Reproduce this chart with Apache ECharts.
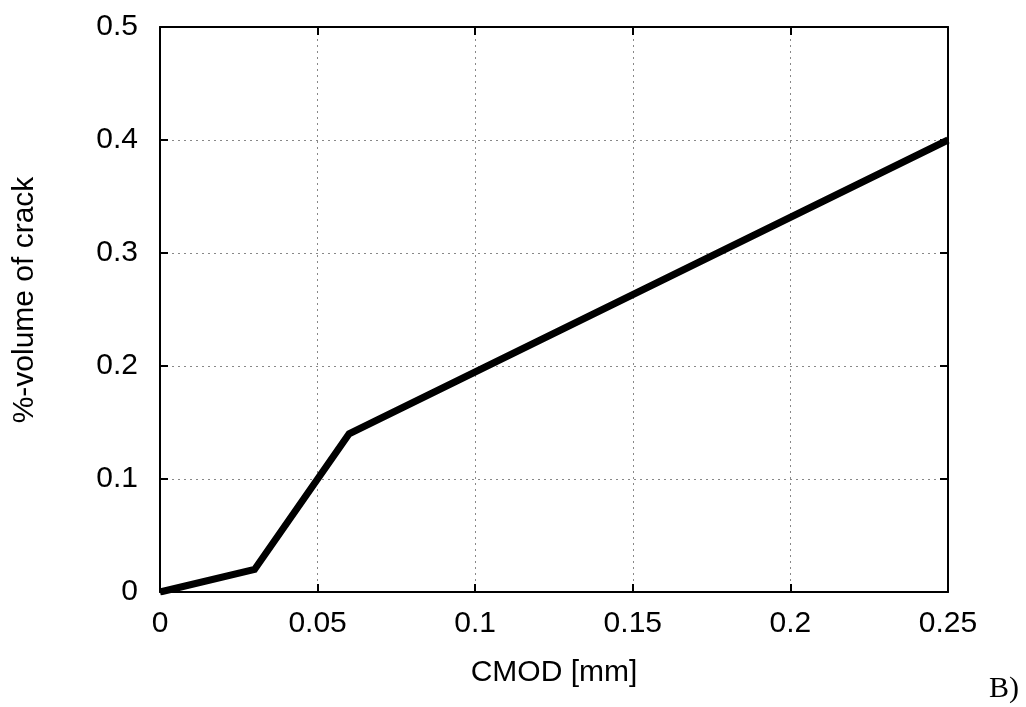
<!DOCTYPE html>
<html><head><meta charset="utf-8">
<script src="https://cdn.jsdelivr.net/npm/echarts@6/dist/echarts.min.js"></script>
<style>html,body{margin:0;padding:0;background:#fff}#c{width:1026px;height:707px}</style>
</head><body><div id="c"></div>
<script>
const cmod = [0, 0.03, 0.06, 0.25];
const volume = [0, 0.02, 0.14, 0.40];
const xTicks = [0, 0.05, 0.1, 0.15, 0.2, 0.25];
const yTicks = [0, 0.1, 0.2, 0.3, 0.4, 0.5];
const xTitle = 'CMOD [mm]';
const yTitle = '%-volume of crack';
const panelLabel = 'B)';

const font = 'Liberation Sans, Arial, Helvetica, sans-serif';
const chart = echarts.init(document.getElementById('c'));
const axisCommon = {
  axisLine: {show: true, onZero: false, lineStyle: {color: '#000', width: 2}},
  axisTick: {show: true, inside: true, length: 8, lineStyle: {color: '#000', width: 2}},
  splitLine: {show: false}
};
chart.setOption({
  animation: false,
  grid: {left: 160, top: 27, right: 78, bottom: 115, containLabel: false},
  xAxis: [
    Object.assign({}, axisCommon, {
      type: 'value', min: xTicks[0], max: xTicks[xTicks.length - 1], interval: xTicks[1] - xTicks[0], position: 'bottom',
      axisLabel: {color: '#000', fontSize: 30, fontFamily: font, margin: 17,
        formatter: v => String(+v.toFixed(2))},
      splitLine: {show: true, lineStyle: {color: '#888', type: [2, 4], width: 1}},
      name: xTitle, nameLocation: 'middle', nameGap: 66,
      nameTextStyle: {color: '#000', fontSize: 30, fontFamily: font}
    }),
    Object.assign({}, axisCommon, {
      type: 'value', min: xTicks[0], max: xTicks[xTicks.length - 1], interval: xTicks[1] - xTicks[0], position: 'top',
      axisLabel: {show: false}
    })
  ],
  yAxis: [
    Object.assign({}, axisCommon, {
      type: 'value', min: yTicks[0], max: yTicks[yTicks.length - 1], interval: yTicks[1] - yTicks[0], position: 'left',
      axisLabel: {color: '#000', fontSize: 30, fontFamily: font, margin: 22,
        formatter: v => String(+v.toFixed(1))},
      splitLine: {show: true, lineStyle: {color: '#888', type: [2, 4], width: 1}}
    }),
    Object.assign({}, axisCommon, {
      type: 'value', min: yTicks[0], max: yTicks[yTicks.length - 1], interval: yTicks[1] - yTicks[0], position: 'right',
      axisLabel: {show: false}
    })
  ],
  graphic: [{
    type: 'text', x: 25, y: 300, rotation: Math.PI / 2,
    style: {text: yTitle, fontSize: 30, fontFamily: font, fill: '#000', align: 'center', verticalAlign: 'middle'}
  }, {
    type: 'text', x: 989, y: 689,
    style: {text: panelLabel, fontSize: 30, fontFamily: 'Liberation Serif, Times New Roman, serif', fill: '#000', align: 'left', verticalAlign: 'middle'}
  }],
  series: [{
    type: 'line', xAxisIndex: 0, yAxisIndex: 0,
    data: cmod.map((x, i) => [x, volume[i]]),
    showSymbol: false, symbol: 'none',
    lineStyle: {color: '#000', width: 7, join: 'miter'},
    z: 5
  }]
});
</script></body></html>
